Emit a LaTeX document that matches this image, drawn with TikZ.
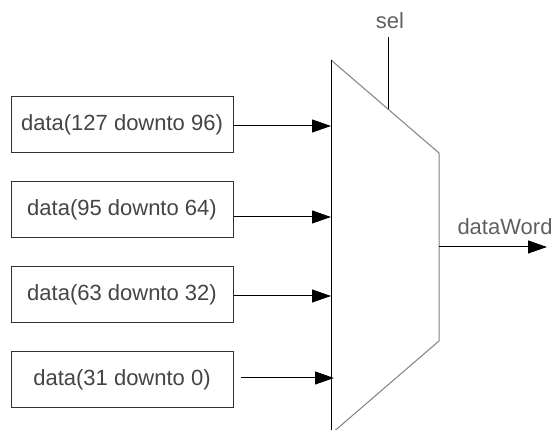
\documentclass[tikz,border=0pt]{standalone}
\usepackage{fontspec}
\setmainfont{Liberation Sans}
\usepackage{xcolor}
\usepackage{tikz}
\usetikzlibrary{arrows.meta}

\definecolor{txtgray}{HTML}{444444}
\definecolor{muxgray}{HTML}{808080}

\tikzset{
    databox/.style={draw=black!80, line width=1pt, minimum width=222pt, minimum height=56pt,
        inner sep=0pt, text=txtgray, font=\fontsize{22}{26}\selectfont},
    sig/.style={line width=1pt, -{Triangle[length=19pt,width=13pt]}},
    lbl/.style={text=txtgray!85, font=\fontsize{22}{26}\selectfont}
}

\begin{document}
\begin{tikzpicture}[x=1pt,y=-1pt]

    \useasboundingbox (0,0) rectangle (558,430);

    % input boxes
    \node[databox] (b1) at (122,125) {data(127 downto 96)};
    \node[databox] (b2) at (122,210) {data(95 downto 64)};
    \node[databox] (b3) at (122,295) {data(63 downto 32)};
    \node[databox] (b4) at (122,380) {data(31 downto 0)};

    % mux corners
    \coordinate (tl) at (331,60);
    \coordinate (tr) at (439,153);
    \coordinate (br) at (439,341);
    \coordinate (bl) at (331,434);
    \coordinate (selin) at (388,109);
    \coordinate (out) at (439,247);

    % mux
    \draw[line width=1pt, muxgray] (tl) -- (tr) -- (br) -- (bl);
    \draw[line width=1pt] (tl) -- (bl);

    % inputs
    \coordinate (in1) at (331,126);
    \coordinate (in2) at (331,217);
    \coordinate (in3) at (331,296);
    \coordinate (in4) at (334,378);
    \draw[sig] (b1.east |- in1) -- (in1);
    \draw[sig] (b2.east |- in2) -- (in2);
    \draw[sig] (b3.east |- in3) -- (in3);
    \draw[sig] ([xshift=7pt]b4.east |- in4) -- (in4);

    % select
    \node[lbl] (sel) at (390,21) {sel};
    \draw[line width=1pt] (selin |- 0,37) -- (selin);

    % output
    \coordinate (dout) at (547,247);
    \draw[sig] (out) -- (dout);
    \node[lbl] (dword) at (505,227) {dataWord};

\end{tikzpicture}
\end{document}
